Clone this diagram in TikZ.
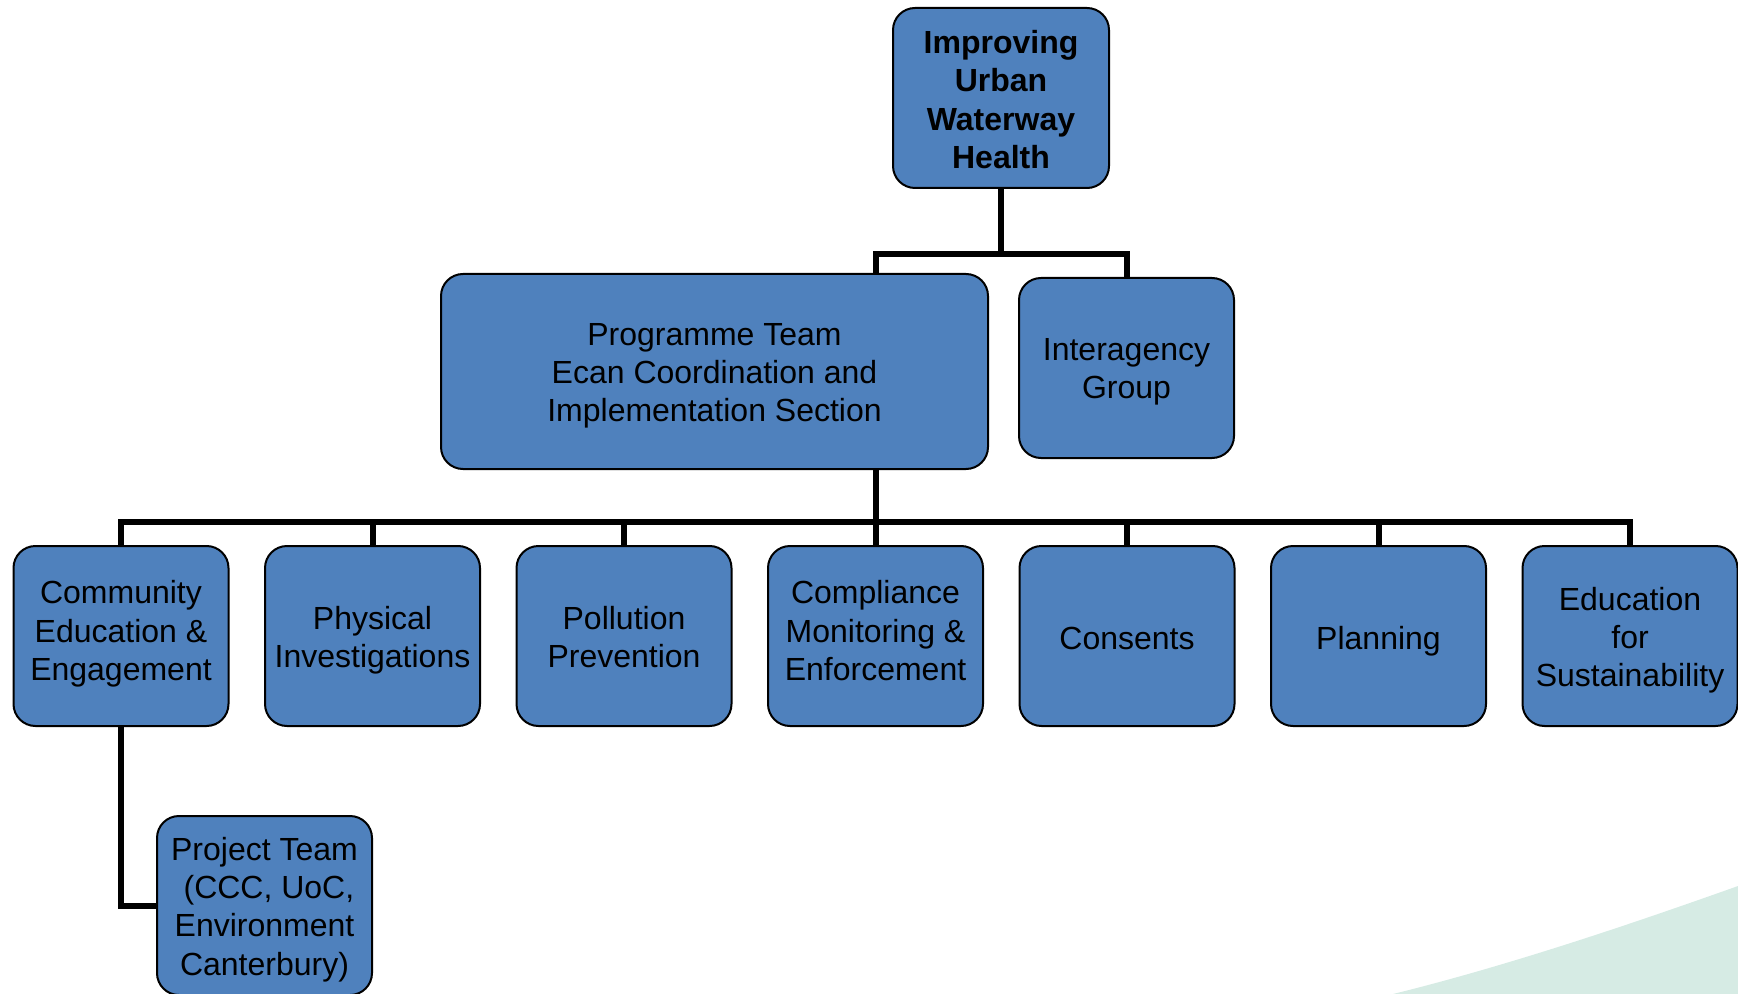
\documentclass[tikz,border=0pt]{standalone}
\usepackage{fontspec}
\setmainfont{Liberation Sans}
\usetikzlibrary{calc}
\definecolor{boxblue}{HTML}{4F81BD}
\definecolor{swoosh}{HTML}{D6EBE4}
\begin{document}
\begin{tikzpicture}[x=0.5pt,y=-0.5pt,
  box/.style={draw=black,line width=1pt,fill=boxblue,rounded corners=11pt,
    align=center,inner sep=0pt,font=\fontsize{16}{19.1}\selectfont,
    minimum width=107.5pt,minimum height=90pt},
  down/.style={text height=#1,text depth=0pt},
  conn/.style={draw=black,line width=3pt,line join=miter}]
\useasboundingbox (0,0) rectangle (1738,994);
% background swoosh
\fill[swoosh] (1385,996) .. controls (1500,968) and (1620,928) .. (1738,886) -- (1738,996) -- cycle;
% nodes
\node[box,down=70.3pt,minimum width=108pt,font=\fontsize{16}{19.1}\selectfont\bfseries] (top) at (1001,98)
  {Improving\\Urban\\Waterway\\Health};
\node[box,down=50.2pt,minimum width=273.5pt,minimum height=97.5pt] (prog) at (714.5,371.5)
  {Programme Team\\Ecan Coordination and\\Implementation Section};
\node[box,down=30.3pt] (inter) at (1126.5,368) {Interagency\\Group};
\node[box,down=44.3pt] (c1) at (121,636) {Community\\Education \&\\Engagement};
\node[box,down=31.7pt] (c2) at (372.5,636) {Physical\\Investigations};
\node[box,down=31.7pt] (c3) at (624,636) {Pollution\\Prevention};
\node[box,down=44.3pt] (c4) at (875.5,636) {Compliance\\Monitoring \&\\Enforcement};
\node[box,down=13pt] (c5) at (1127,636) {Consents};
\node[box,down=13pt] (c6) at (1378.5,636) {Planning};
\node[box,down=50.7pt] (c7) at (1630,636) {Education\\for\\Sustainability};
\node[box,down=69.5pt,minimum height=89.5pt] (proj) at (264.5,905.5) {Project Team\\\ (CCC, UoC,\\Environment\\Canterbury)};
% junction coordinates
\coordinate (bus1) at (0,254);
\coordinate (bus2) at (0,522);
\coordinate (ptop) at (c4.north |- prog.north);
\coordinate (pbot) at (c4.north |- prog.south);
% connectors
\draw[conn] (top.south) -- (top.south |- bus1);
\draw[conn] (ptop) -- (ptop |- bus1) -| (inter.north);
\draw[conn] (pbot) -- (pbot |- bus2);
\draw[conn] (c1.north) -- (c1.north |- bus2) -- (c7.north |- bus2) -- (c7.north);
\foreach \n in {c2,c3,c4,c5,c6} {\draw[conn] (\n.north) -- (\n.north |- bus2);}
\draw[conn] (c1.south) |- (proj.west);
\end{tikzpicture}
\end{document}
